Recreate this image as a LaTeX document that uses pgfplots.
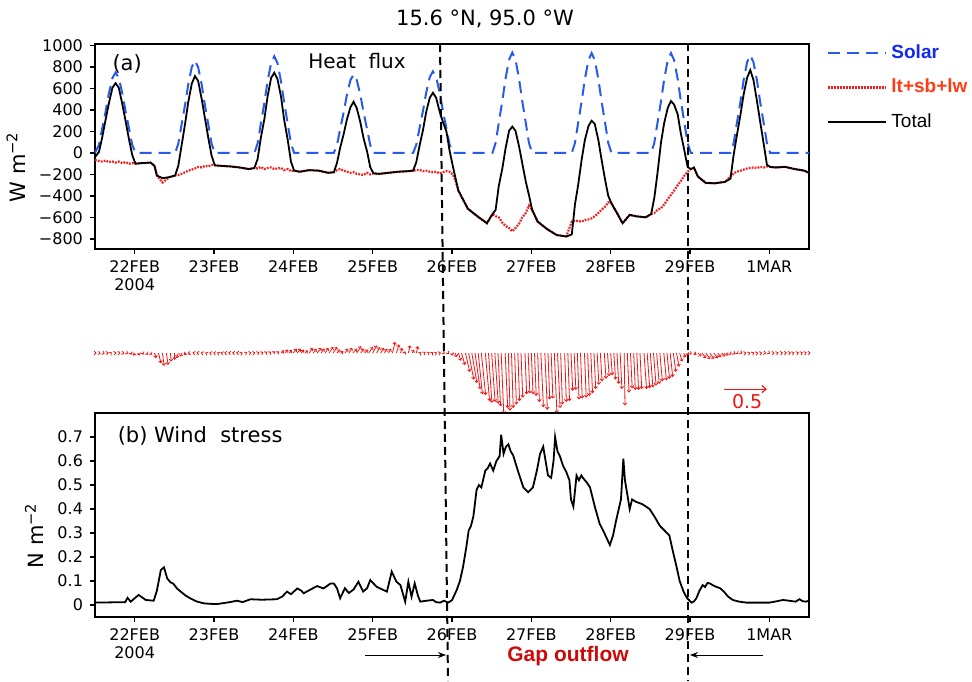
\documentclass[border=0pt]{standalone}
\usepackage{pgfplots}
\pgfplotsset{compat=1.18}
\usepackage{pgfplotstable}
\usetikzlibrary{arrows.meta}
\usepackage{fontspec}
\setmainfont{DejaVu Sans}
\newfontfamily\arial{Liberation Sans}

\definecolor{solarblue}{RGB}{40,90,235}
\definecolor{solartext}{RGB}{20,40,245}
\definecolor{ltred}{RGB}{245,30,30}
\definecolor{lttext}{RGB}{255,60,20}
\definecolor{gapred}{RGB}{205,10,10}
\definecolor{vecred}{RGB}{240,20,20}

% heat flux: time (day of Feb 2004), solar, lt+sb+lw, total  [W m-2]
\pgfplotstableread{
t sol lt tot
21.50 0 -65 -40
21.55 75 -75 10
21.59 225 -80 142
21.635 390 -70 315
21.675 555 -85 463
21.72 698 -80 608
21.76 750 -90 650
21.80 698 -80 608
21.845 555 -95 453
21.885 390 -85 300
21.93 225 -100 122
21.97 75 -95 -21
22.01 0 -100 -100
22.08 0 -95 -95
22.20 0 -90 -90
22.25 0 -120 -120
22.28 0 -210 -210
22.35 0 -275 -235
22.44 0 -225 -225
22.51 0 -210 -210
22.55 86 -205 -119
22.59 258 -195 63
22.635 447 -180 268
22.675 636 -165 472
22.72 800 -155 646
22.76 860 -145 716
22.80 800 -130 671
22.845 636 -135 502
22.885 447 -120 328
22.93 258 -125 133
22.97 86 -112 -26
23.01 0 -115 -115
23.08 0 -120 -120
23.20 0 -125 -125
23.32 0 -135 -135
23.44 0 -150 -150
23.51 0 -140 -140
23.55 90 -145 -55
23.59 270 -130 139
23.635 468 -150 316
23.675 666 -140 524
23.72 837 -135 699
23.76 900 -150 747
23.80 837 -145 689
23.845 666 -140 524
23.885 468 -160 306
23.93 270 -150 119
23.97 90 -170 -80
24.01 0 -165 -165
24.08 0 -175 -175
24.20 0 -160 -160
24.32 0 -165 -165
24.44 0 -185 -185
24.51 0 -180 -180
24.55 73 -160 -94
24.59 219 -150 47
24.635 380 -165 177
24.675 540 -175 311
24.72 679 -185 426
24.76 730 -180 477
24.80 679 -195 416
24.845 540 -200 286
24.885 380 -205 137
24.93 219 -185 12
24.97 73 -200 -134
25.01 0 -190 -190
25.08 0 -195 -195
25.20 0 -185 -185
25.32 0 -175 -175
25.44 0 -170 -170
25.51 0 -165 -165
25.55 76 -160 -86
25.59 228 -158 64
25.635 395 -170 215
25.675 562 -165 383
25.72 707 -175 514
25.76 760 -180 561
25.80 707 -175 514
25.845 562 -190 384
25.885 395 -180 290
25.93 228 -170 200
25.97 76 -175 20
26.01 0 -200 -120
26.04 0 -250 -220
26.08 0 -350 -350
26.20 0 -520 -520
26.32 0 -590 -590
26.44 0 -655 -655
26.51 0 -570 -570
26.55 94 -590 -530
26.59 281 -600 -307
26.635 486 -650 -143
26.675 692 -680 42
26.72 870 -700 207
26.76 935 -730 245
26.80 870 -700 207
26.845 692 -660 62
26.885 486 -600 -93
26.93 281 -560 -267
26.97 94 -490 -392
27.01 0 -530 -530
27.08 0 -640 -640
27.20 0 -710 -710
27.32 0 -765 -765
27.44 0 -778 -778
27.51 0 -640 -760
27.55 93 -630 -480
27.59 279 -635 -300
27.635 484 -640 -60
27.675 688 -625 120
27.72 865 -620 250
27.76 930 -610 300
27.80 865 -590 270
27.845 688 -560 120
27.885 484 -530 -60
27.93 279 -500 -250
27.97 93 -460 -400
28.01 0 -470 -470
28.08 0 -560 -560
28.15 0 -655 -655
28.24 0 -577 -577
28.32 0 -590 -590
28.44 0 -600 -600
28.51 0 -570 -570
28.55 93 -560 -420
28.59 279 -530 -190
28.635 484 -515 100
28.675 688 -480 280
28.72 865 -430 420
28.76 930 -390 484
28.80 865 -350 450
28.845 688 -300 360
28.885 484 -260 180
28.93 279 -210 20
28.97 93 -175 -130
29.01 0 -150 -150
29.05 0 -137 -137
29.10 0 -220 -220
29.20 0 -280 -280
29.32 0 -282 -282
29.44 0 -270 -270
29.51 0 -220 -240
29.55 91 -190 -20
29.59 273 -175 160
29.635 473 -165 350
29.675 673 -155 540
29.72 846 -145 700
29.76 910 -140 772
29.80 846 -135 680
29.845 673 -140 480
29.885 473 -130 290
29.93 273 -135 80
29.97 91 -125 -110
30.01 0 -130 -130
30.08 0 -135 -135
30.20 0 -130 -130
30.32 0 -150 -150
30.44 0 -165 -165
30.50 0 -185 -185
}\heatflux

% wind stress vectors: time, tau_x, tau_y  [N m-2]
\pgfplotstableread{
t tx ty
21.5 0.02 0.00
21.55 0.02 -0.005
21.6 0.02 -0.01
21.65 0.02 0.005
21.7 0.01 0.01
21.75 0.02 0.005
21.8 0.02 0.00
21.85 0.02 -0.005
21.9 0.015 -0.01
21.95 0.01 -0.02
22.0 -0.02 -0.03
22.05 0.01 -0.03
22.1 0.01 -0.02
22.15 0.02 -0.02
22.2 0.02 -0.02
22.25 0.02 -0.06
22.3 0.03 -0.12
22.35 0.02 -0.15
22.4 0.02 -0.14
22.45 0.01 -0.10
22.5 0.005 -0.08
22.55 -0.02 -0.06
22.6 -0.03 -0.04
22.65 -0.03 -0.02
22.7 -0.03 -0.01
22.75 -0.02 0.005
22.8 -0.02 0.002
22.85 -0.015 0.005
22.9 -0.01 0.005
22.95 -0.01 0.002
23.0 -0.01 0.002
23.05 -0.01 0.005
23.1 -0.015 0.005
23.15 -0.02 0.002
23.2 -0.02 0.005
23.25 -0.02 0.002
23.3 -0.02 0.002
23.35 0.01 0.005
23.4 0.015 0.01
23.45 0.02 0.005
23.5 0.02 0.005
23.55 0.02 0.01
23.6 0.02 0.01
23.65 0.02 0.015
23.7 0.02 0.015
23.75 0.02 0.02
23.8 0.02 0.02
23.85 0.03 0.03
23.9 0.03 0.04
23.95 0.03 0.035
24.0 0.04 0.05
24.05 0.04 0.05
24.1 0.03 0.04
24.15 0.03 0.03
24.2 0.04 0.06
24.25 0.04 0.05
24.3 0.05 0.06
24.35 0.04 0.05
24.4 0.04 0.06
24.45 0.05 0.07
24.5 0.05 0.07
24.55 0.04 0.04
24.6 0.03 0.02
24.65 0.04 0.05
24.7 0.04 0.06
24.75 0.05 0.05
24.8 0.05 0.08
24.85 0.04 0.05
24.9 0.04 0.04
24.95 0.05 0.07
25.0 0.05 0.09
25.05 0.04 0.07
25.1 0.04 0.06
25.15 0.03 0.05
25.2 0.03 0.05
25.25 0.03 0.13
25.3 0.03 0.10
25.35 0.02 0.06
25.4 0.01 0.02
25.45 0.02 0.09
25.5 0.02 0.04
25.55 0.02 0.08
25.6 0.01 0.01
25.65 0.015 0.01
25.7 0.015 0.01
25.75 0.01 0.01
25.8 0.01 0.005
25.85 0.01 0.002
25.9 0.01 -0.005
25.95 0.01 -0.01
26.00 0.01 -0.03
26.04 0.02 -0.05
26.08 0.03 -0.09
26.12 0.04 -0.14
26.17 0.05 -0.22
26.21 0.06 -0.31
26.25 0.06 -0.35
26.29 0.06 -0.42
26.33 0.05 -0.48
26.37 0.05 -0.49
26.42 0.05 -0.56
26.46 0.04 -0.58
26.50 0.04 -0.57
26.54 0.04 -0.59
26.58 0.03 -0.62
26.62 0.03 -0.71
26.67 0.03 -0.64
26.71 0.02 -0.67
26.75 0.02 -0.64
26.79 0.02 -0.60
26.83 0.02 -0.56
26.87 0.02 -0.52
26.92 0.02 -0.48
26.96 0.02 -0.47
27.00 0.02 -0.48
27.04 0.02 -0.50
27.08 0.02 -0.57
27.12 0.03 -0.63
27.17 0.03 -0.66
27.21 0.02 -0.54
27.25 0.02 -0.53
27.29 0.03 -0.70
27.33 0.03 -0.64
27.37 0.02 -0.60
27.42 0.02 -0.57
27.46 0.02 -0.56
27.50 0.02 -0.44
27.54 0.02 -0.43
27.58 0.02 -0.54
27.62 0.02 -0.53
27.67 0.02 -0.52
27.71 0.02 -0.50
27.75 0.02 -0.47
27.79 0.02 -0.42
27.83 0.02 -0.37
27.87 0.02 -0.33
27.92 0.02 -0.30
27.96 0.02 -0.27
28.00 0.02 -0.26
28.04 0.02 -0.31
28.08 0.02 -0.36
28.12 0.02 -0.42
28.17 0.01 -0.61
28.21 0.02 -0.46
28.25 0.02 -0.41
28.29 0.02 -0.43
28.33 0.02 -0.43
28.37 0.02 -0.42
28.42 0.03 -0.42
28.46 0.03 -0.41
28.50 0.03 -0.40
28.54 0.03 -0.38
28.58 0.03 -0.36
28.62 0.03 -0.33
28.67 0.03 -0.32
28.71 0.03 -0.30
28.75 0.03 -0.28
28.79 0.03 -0.22
28.83 0.03 -0.16
28.87 0.03 -0.10
28.92 0.02 -0.055
28.96 0.02 -0.03
29.00 0.02 -0.015
29.05 0.03 -0.02
29.1 0.04 -0.04
29.15 0.05 -0.06
29.2 0.05 -0.07
29.25 0.05 -0.07
29.3 0.05 -0.06
29.35 0.04 -0.05
29.4 0.04 -0.04
29.45 0.03 -0.03
29.5 0.02 -0.02
29.55 0.02 -0.015
29.6 0.01 -0.01
29.65 0.01 -0.005
29.7 0.01 0.002
29.75 0.01 0.004
29.8 0.01 0.005
29.85 0.01 0.003
29.9 0.01 0.002
29.95 0.01 -0.002
30.0 0.01 -0.005
30.05 0.015 0.002
30.1 0.015 0.005
30.15 0.02 0.004
30.2 0.02 0.002
30.25 0.02 0.004
30.3 0.015 0.005
30.35 0.02 0.008
30.4 0.02 0.01
30.45 0.02 0.005
30.5 0.02 0.002
}\windvec

% wind stress magnitude [N m-2]
\pgfplotstableread{
t tau
21.50 0.010
21.88 0.012
21.91 0.030
21.95 0.014
22.05 0.042
22.14 0.021
22.24 0.018
22.28 0.06
22.33 0.146
22.37 0.157
22.41 0.111
22.45 0.095
22.49 0.088
22.53 0.07
22.58 0.056
22.64 0.04
22.70 0.028
22.78 0.015
22.87 0.007
22.95 0.005
23.04 0.004
23.12 0.008
23.20 0.012
23.29 0.018
23.36 0.012
23.46 0.024
23.60 0.022
23.79 0.024
23.86 0.035
23.92 0.056
23.97 0.045
24.05 0.069
24.10 0.060
24.13 0.049
24.22 0.065
24.30 0.079
24.38 0.069
24.47 0.090
24.51 0.090
24.55 0.07
24.59 0.028
24.65 0.070
24.70 0.050
24.76 0.065
24.82 0.097
24.88 0.056
24.93 0.070
24.97 0.104
25.05 0.076
25.12 0.065
25.18 0.056
25.24 0.139
25.30 0.097
25.35 0.083
25.41 0.014
25.45 0.097
25.49 0.035
25.53 0.090
25.57 0.04
25.60 0.014
25.68 0.018
25.76 0.021
25.80 0.012
25.85 0.010
25.90 0.018
25.95 0.010
26.00 0.02
26.06 0.063
26.10 0.10
26.14 0.16
26.18 0.24
26.21 0.31
26.24 0.33
26.27 0.37
26.31 0.48
26.34 0.50
26.37 0.49
26.42 0.56
26.45 0.57
26.48 0.59
26.52 0.56
26.56 0.60
26.60 0.62
26.62 0.71
26.65 0.63
26.68 0.66
26.71 0.67
26.74 0.64
26.77 0.625
26.83 0.56
26.90 0.49
26.96 0.47
27.02 0.49
27.07 0.56
27.11 0.63
27.15 0.66
27.18 0.60
27.21 0.54
27.25 0.53
27.28 0.60
27.30 0.70
27.33 0.64
27.36 0.62
27.40 0.58
27.44 0.555
27.48 0.52
27.50 0.44
27.53 0.41
27.57 0.54
27.60 0.52
27.63 0.54
27.65 0.53
27.70 0.51
27.74 0.49
27.80 0.41
27.86 0.34
27.92 0.30
27.99 0.25
28.03 0.29
28.07 0.354
28.13 0.44
28.16 0.61
28.18 0.52
28.20 0.48
28.24 0.40
28.27 0.44
28.32 0.43
28.40 0.42
28.49 0.40
28.55 0.37
28.62 0.33
28.68 0.31
28.74 0.29
28.78 0.23
28.83 0.16
28.87 0.10
28.92 0.055
28.96 0.03
29.02 0.01
29.05 0.015
29.08 0.028
29.12 0.06
29.16 0.083
29.19 0.075
29.22 0.092
29.25 0.09
29.29 0.082
29.33 0.076
29.38 0.07
29.43 0.055
29.48 0.035
29.54 0.021
29.62 0.014
29.71 0.010
29.85 0.010
30.00 0.010
30.10 0.016
30.17 0.021
30.25 0.018
30.33 0.014
30.38 0.024
30.42 0.016
30.46 0.014
30.50 0.018
}\stress

\pgfplotsset{
  panel/.style={
    scale only axis, width=357pt,
    xmin=21.5, xmax=30.5,
    axis line style={line width=0.9pt},
    tick align=outside, major tick length=2.5pt,
    tick style={black, line width=0.7pt},
    xtick pos=bottom, ytick pos=left,
    xtick={22,...,30},
    xticklabels={{22FEB\\2004},23FEB,24FEB,25FEB,26FEB,27FEB,28FEB,29FEB,1MAR},
    tick label style={font=\fontsize{8}{8.6}\selectfont},
    xticklabel style={align=center},
    ylabel style={at={(ticklabel cs:0.4)}, font=\fontsize{10.5}{12}\selectfont},
  },
}

\begin{document}
\begin{tikzpicture}
% (a) heat flux
\begin{axis}[panel, at={(47.5pt,-124.5pt)}, anchor=south west, height=102.5pt,
  ymin=-895, ymax=1015,
  ytick={-800,-600,...,1000},
  yticklabels={−800,−600,−400,−200,0,200,400,600,800,1000},
  ylabel={W m\textsuperscript{−2}},
  legend style={at={(1.025,1.0)}, anchor=north west, draw=none, fill=none,
    inner sep=0pt, row sep=9pt, font=\arial\fontsize{9.5}{11}\selectfont,
    nodes={inner xsep=2pt, inner ysep=0pt}},
  legend cell align=left,
  legend image code/.code={\draw[#1] (0pt,0pt) -- (29pt,0pt);},
]
\addplot[solarblue, line width=1pt, dash pattern=on 6pt off 3.5pt] table[x=t, y=sol] {\heatflux};
\addlegendentry{\textcolor{solartext}{\bfseries Solar}}
\addplot[ltred, line width=1.1pt, dash pattern=on 0.9pt off 0.6pt] table[x=t, y=lt] {\heatflux};
\addlegendentry{\textcolor{lttext}{\bfseries lt+sb+lw}}
\addplot[black, line width=0.9pt] table[x=t, y=tot] {\heatflux};
\addlegendentry{Total}
\node[font=\fontsize{10.5}{12}\selectfont] at (rel axis cs:0.045,0.905) {(a)};
\node[font=\fontsize{10}{12}\selectfont] at (rel axis cs:0.367,0.915) {Heat\ \ flux};
\end{axis}

% wind stress vectors
\begin{axis}[at={(47.5pt,-208.75pt)}, anchor=south west, scale only axis,
  width=357pt, height=36.55pt, xmin=21.5, xmax=30.5, ymin=-0.75, ymax=0.1,
  hide axis, clip=false]
\addplot[vecred, line width=0.4pt, quiver={u=\thisrow{tx}*1.084, v=\thisrow{ty},
  every arrow/.append style={-{Straight Barb[length=1pt,width=1.8pt]}}}]
  table[x=t, y expr=0] {\windvec};
\draw[vecred, line width=0.6pt, -{Straight Barb[length=2pt,width=3.5pt]}]
  (axis cs:29.43,-0.42) -- (axis cs:29.97,-0.42);
\node[vecred, font=\fontsize{9.5}{11}\selectfont] at (axis cs:29.72,-0.57) {0.5};
\end{axis}

% (b) wind stress
\begin{axis}[panel, at={(47.5pt,-308.5pt)}, anchor=south west, height=102pt,
  ymin=-0.05, ymax=0.8,
  ytick={0,0.1,...,0.7},
  yticklabels={0,0.1,0.2,0.3,0.4,0.5,0.6,0.7},
  ylabel={N m\textsuperscript{−2}},
]
\addplot[black, line width=0.9pt] table[x=t, y=tau] {\stress};
\node[anchor=west, font=\fontsize{10.5}{12}\selectfont] at (rel axis cs:0.022,0.887) {(b) Wind\ \ stress};
\end{axis}

% annotations in pixel units of the original figure
\begin{scope}[x=0.5pt, y=-0.5pt]
  \node[font=\fontsize{10.5}{12}\selectfont] at (485,19) {15.6 °N, 95.0 °W};
  \draw[line width=1pt, dash pattern=on 4pt off 2.5pt] (440,44) -- (448,681);
  \draw[line width=1pt, dash pattern=on 4pt off 2.5pt] (688,43) -- (688,681);
  \draw[line width=0.4pt, -{Stealth[length=4pt,width=3pt]}] (365,655) -- (446,655);
  \draw[line width=0.4pt, -{Stealth[length=4pt,width=3pt]}] (763,655) -- (690,655);
  \node[gapred, font=\arial\bfseries\fontsize{10.5}{12}\selectfont] at (568,656) {Gap outflow};
\end{scope}
\pgfresetboundingbox
\path[use as bounding box] (0,0) rectangle (486pt,-340.5pt);
\end{tikzpicture}
\end{document}
